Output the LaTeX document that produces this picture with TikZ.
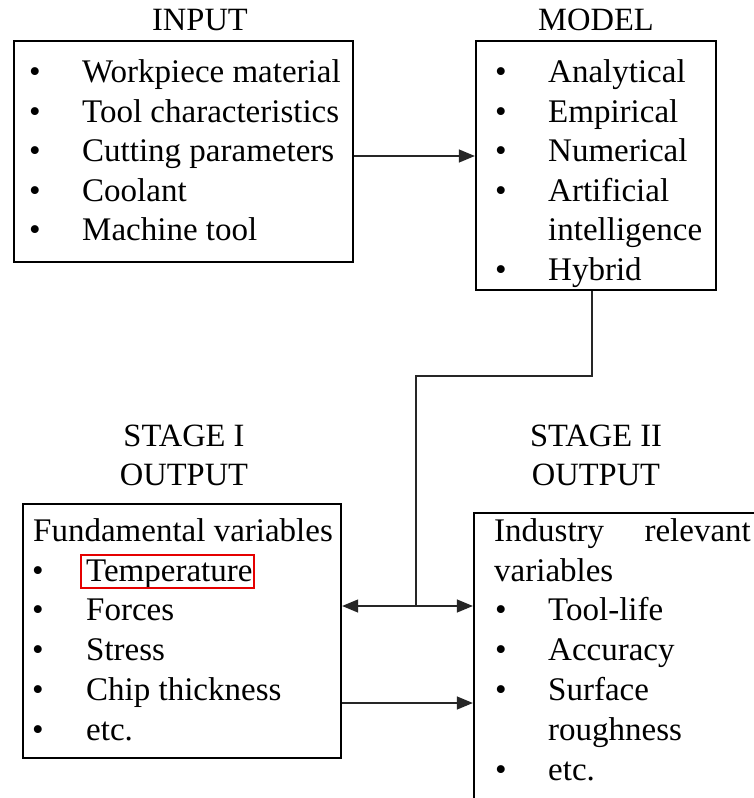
\documentclass[tikz,border=0pt]{standalone}
\usepackage{fontspec}
\setmainfont{Liberation Serif}
\usetikzlibrary{arrows.meta}
\begin{document}
\begin{tikzpicture}[x=1pt,y=-1pt,
  txt/.style={anchor=base west,inner sep=0pt,font=\fontsize{33}{39.5}\selectfont},
  ttl/.style={anchor=base,inner sep=0pt,font=\fontsize{32.5}{39.5}\selectfont},
  bul/.style={anchor=base,inner sep=0pt,font=\fontsize{33}{39.5}\selectfont},
  box/.style={draw=black,line width=2.3pt,inner sep=0pt},
  conn/.style={draw=black!85,line width=1.3pt},
  arr/.style={conn,-{Triangle[length=16pt,width=13pt]}},
  redbox/.style={draw=red!90!black,line width=1.6pt}]
\useasboundingbox (0,0) rectangle (754,798);
\clip (0,0) rectangle (754,798);
\fill[white] (0,0) rectangle (754,798);
% boxes
\node[box,minimum width=339pt,minimum height=221pt] (input) at (183.5,151.5) {};
\node[box,minimum width=240pt,minimum height=249pt] (model) at (596,165.5) {};
\node[box,minimum width=318pt,minimum height=254pt] (s1) at (182,631) {};
\node[box,minimum width=306pt,minimum height=317pt] (s2) at (627,671.5) {};
% titles
\node[ttl] (tin) at (200,30) {INPUT};
\node[ttl] (tmo) at (596,30) {MODEL};
\node[ttl] (ts1a) at (184,446) {STAGE I};
\node[ttl] (ts1b) at (184,485) {OUTPUT};
\node[ttl] (ts2a) at (596,446) {STAGE II};
\node[ttl] (ts2b) at (596,485) {OUTPUT};
% input list
\foreach \y/\t [count=\i] in {82/Workpiece material,122/Tool characteristics,161/Cutting parameters,201/Coolant,240/Machine tool}{
  \node[bul] (ib\i) at (35,\y) {\textbullet};
  \node[txt] (it\i) at (82,\y) {\t};
}
% model list
\foreach \y/\t [count=\i] in {82/Analytical,122/Empirical,161/Numerical,201/Artificial}{
  \node[bul] (mb\i) at (501,\y) {\textbullet};
  \node[txt] (mt\i) at (548,\y) {\t};
}
\node[txt] (mt5) at (548,240) {intelligence};
\node[bul] (mb6) at (501,280) {\textbullet};
\node[txt] (mt6) at (548,280) {Hybrid};
% stage I list
\node[txt] (fv) at (33,541) {Fundamental variables};
\foreach \y/\t [count=\i] in {581/Temperature,620/Forces,660/Stress,700/Chip thickness,740/etc.}{
  \node[bul] (sb\i) at (38,\y) {\textbullet};
  \node[txt] (st\i) at (86,\y) {\t};
}
\draw[redbox] (81,555) rectangle (254,588);
% stage II list
\node[txt] (ir1) at (494,541) {Industry};
\node[txt,anchor=base east] (ir2) at (751,541) {relevant};
\node[txt] (ir3) at (494,581) {variables};
\foreach \y/\t [count=\i] in {620/Tool-life,660/Accuracy,700/Surface,780/etc.}{
  \node[bul] (tb\i) at (501,\y) {\textbullet};
  \node[txt] (tt\i) at (548,\y) {\t};
}
\node[txt] (tr) at (548,740) {roughness};
% connectors
\coordinate (a1) at (0,156);
\coordinate (mx) at (592,0);
\coordinate (bend) at (416,376);
\coordinate (j) at (416,606);
\coordinate (a3) at (0,703);
\draw[arr] (input.east |- a1) -- (model.west |- a1);
\draw[conn] (mx |- model.south) |- (bend) -- (j);
\draw[arr] (j) -- (s1.east |- j);
\draw[arr] (j) -- (s2.west |- j);
\draw[arr] (s1.east |- a3) -- (s2.west |- a3);
\end{tikzpicture}
\end{document}
